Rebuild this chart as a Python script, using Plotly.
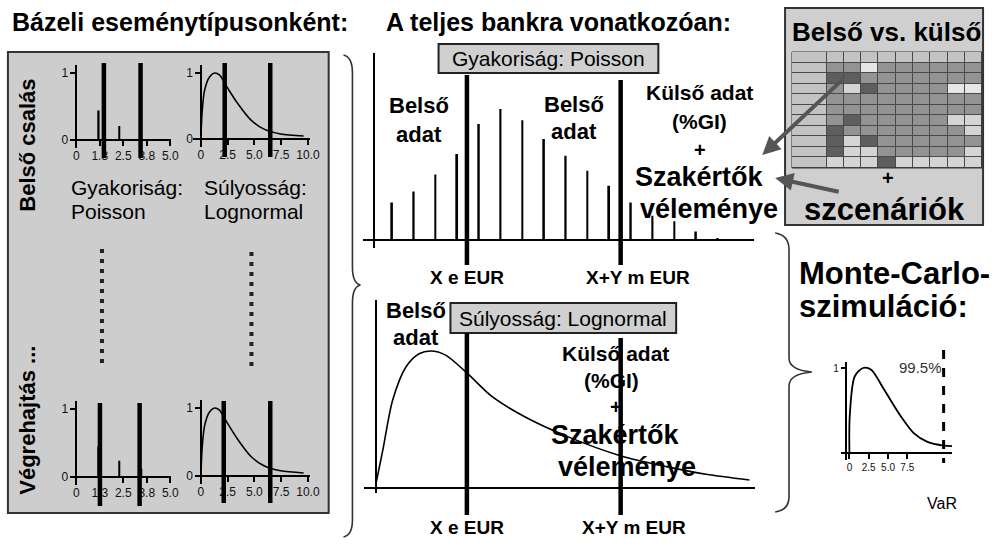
import plotly.graph_objects as go

W, H = 999, 544
FONT = "Liberation Sans, Arial, sans-serif"

# ---------------- data ----------------
# left panel, mini frequency charts (Poisson)
poisson_top_x = [1.2, 2.3]
poisson_top_y = [0.44, 0.21]
poisson_bot_x = [1.2, 2.3, 3.45]
poisson_bot_y = [0.45, 0.24, 0.12]
poisson_ticks = [0, 1.25, 2.5, 3.75, 5.0]
poisson_ticktext = ["0", "1.3", "2.5", "3.8", "5.0"]

# left panel, mini severity charts (Lognormal)
logn_x = [0, 0.1, 0.34, 0.8, 1.27, 1.73, 2.5, 3.43, 4.66, 5.9, 7.44, 9.6]
logn_y = [0, 0.39, 0.74, 0.94, 1.0, 0.97, 0.77, 0.54, 0.29, 0.15, 0.076, 0.045]
logn_ticks = [0, 2.5, 5.0, 7.5, 10.0]
logn_ticktext = ["0", "2.5", "5.0", "7.5", "10.0"]

mini_y_ticks = [0, 1]
mini_y_ticktext = ["0", "1"]

# threshold markers (thick vertical lines) in the mini charts
poisson_top_marks = [1.47, 3.42]
logn_top_marks = [2.22, 6.48]
poisson_bot_marks = [1.26, 3.37]
logn_bot_marks = [2.13, 6.48]

# bank-wide frequency (Poisson)
bank_freq_x = list(range(1, 17))
bank_freq_y = [0.20, 0.26, 0.35, 0.46, 0.62, 0.70, 0.64, 0.54, 0.45, 0.37,
               0.29, 0.20, 0.13, 0.10, 0.045, 0.01]
bank_freq_marks = [4.45, 11.53]

# bank-wide severity (Lognormal)
bank_sev_x = [0, 0.18, 0.44, 0.8, 1.15, 1.46, 1.86, 2.43, 3.09, 3.98, 5.13,
              6.54, 7.78, 8.84, 10.0]
bank_sev_y = [0.04, 0.28, 0.64, 0.885, 0.98, 1.0, 0.97, 0.84, 0.67, 0.52,
              0.375, 0.236, 0.156, 0.10, 0.058]
bank_sev_marks = [2.43, 6.55]
threshold_labels = ["X e EUR", "X+Y m EUR"]

# Monte-Carlo aggregate loss distribution
mc_x = [0, 0.04, 0.68, 1.76, 2.82, 4.53, 6.67, 8.37, 10.1, 12.2, 13.3]
mc_y = [0, 0.43, 0.9, 1.0, 0.98, 0.74, 0.43, 0.23, 0.13, 0.086, 0.08]
mc_var = 12.2
mc_ticks = [0, 2.5, 5.0, 7.5]
mc_ticktext = ["0", "2.5", "5.0", "7.5"]
mc_var_label = "99.5%"

# internal vs external table: gray level per cell (0 lightest .. 4 darkest)
table_header = [2, 2, 2, 2, 2, 2, 2, 2, 2, 2]
table_r1 = [2, 3, 3, 0, 3, 3, 3, 3, 3, 3]
table_r2 = [2, 4, 4, 3, 3, 3, 3, 3, 3, 3]
table_r3 = [2, 3, 1, 4, 3, 3, 3, 3, 0, 0]
table_r4 = [2, 3, 3, 3, 3, 3, 3, 3, 3, 3]
table_r5 = [2, 3, 3, 3, 3, 3, 3, 3, 3, 3]
table_r6 = [2, 3, 4, 3, 3, 3, 3, 3, 1, 1]
table_r7 = [2, 4, 3, 3, 3, 3, 3, 3, 3, 1]
table_r8 = [2, 4, 1, 4, 3, 3, 3, 3, 3, 3]
table_r9 = [2, 4, 1, 1, 3, 3, 3, 3, 3, 1]
table_r10 = [2, 1, 1, 1, 4, 1, 1, 1, 1, 1]
table_col_edges = [0, 2, 3, 4, 5, 6, 7, 8, 9, 10, 11]

# ---------------- helpers ----------------
def px(x):
    return x / W


def py(y):
    return 1 - y / H


def xaxis(dom, zero_px, ppu, cross_y_px, tickvals=None, ticktext=None, size=12):
    d = dict(domain=[px(dom[0]), px(dom[1])],
             range=[(dom[0] - zero_px) / ppu, (dom[1] - zero_px) / ppu],
             anchor="free", position=py(cross_y_px),
             showline=True, linecolor="black", linewidth=1.5,
             showgrid=False, zeroline=False, fixedrange=True)
    if tickvals is not None:
        d.update(tickvals=tickvals, ticktext=ticktext, ticks="outside",
                 ticklen=5, tickwidth=1.5, tickcolor="black",
                 tickfont=dict(size=size, color="#111", family=FONT))
    else:
        d.update(showticklabels=False, ticks="")
    return d


def yaxis(dom, zero_px, ppu, cross_x_px, tickvals=None, ticktext=None, size=12):
    d = dict(domain=[py(dom[1]), py(dom[0])],
             range=[(zero_px - dom[1]) / ppu, (zero_px - dom[0]) / ppu],
             anchor="free", position=px(cross_x_px),
             showline=True, linecolor="black", linewidth=1.5,
             showgrid=False, zeroline=False, fixedrange=True)
    if tickvals is not None:
        d.update(tickvals=tickvals, ticktext=ticktext, ticks="outside",
                 ticklen=5, tickwidth=1.5, tickcolor="black",
                 tickfont=dict(size=size, color="#111", family=FONT))
    else:
        d.update(showticklabels=False, ticks="")
    return d


annotations = []


def txt(s, x, y, size, bold=False, xanchor="center", angle=0, color="black"):
    annotations.append(dict(text=s, x=px(x), y=py(y), xref="paper", yref="paper",
                            xanchor=xanchor, yanchor="middle", showarrow=False,
                            textangle=angle,
                            font=dict(size=size, color=color, family=FONT,
                                      weight="bold" if bold else "normal")))


shapes = []


def vline(xref, xval, y0, y1, width=4.5, dash="solid"):
    shapes.append(dict(type="line", xref=xref, yref="paper", x0=xval, x1=xval,
                       y0=py(y0), y1=py(y1),
                       line=dict(color="black", width=width, dash=dash)))


def rect(x0, y0, x1, y1, fill, border="#333", width=2, layer="below"):
    shapes.append(dict(type="rect", xref="paper", yref="paper",
                       x0=px(x0), x1=px(x1), y0=py(y1), y1=py(y0),
                       fillcolor=fill, line=dict(color=border, width=width),
                       layer=layer))


def path(points_cmds, width=1.6, color="#333"):
    parts = []
    for cmd, pts in points_cmds:
        coords = " ".join(f"{px(a):.5f},{py(b):.5f}" for a, b in pts)
        parts.append(f"{cmd} {coords}")
    shapes.append(dict(type="path", xref="paper", yref="paper", path=" ".join(parts),
                       line=dict(color=color, width=width), layer="above"))


# ---------------- background boxes ----------------
rect(8, 52, 332, 513, "#cdcdcd")                       # left panel
rect(793, 8, 993, 225, "#cfcfcf")                      # table box
rect(800, 52, 992, 168, "#4a4a4a", border="#333", width=1)  # table grid
rect(443, 44, 665, 73, "#d0d0d0", border="#222", width=2, layer="above")
rect(455, 303, 683, 333, "#d0d0d0", border="#222", width=2, layer="above")

# ---------------- traces ----------------
fig = go.Figure()
line_style = dict(color="black", width=1.6, shape="spline", smoothing=0.8)

fig.add_trace(go.Bar(x=poisson_top_x, y=poisson_top_y, width=0.08,
                     marker=dict(color="black", line=dict(width=0)),
                     xaxis="x", yaxis="y", hoverinfo="skip"))
fig.add_trace(go.Scatter(x=logn_x, y=logn_y, mode="lines", line=line_style,
                         xaxis="x2", yaxis="y2", hoverinfo="skip"))
fig.add_trace(go.Bar(x=poisson_bot_x, y=poisson_bot_y, width=0.08,
                     marker=dict(color="black", line=dict(width=0)),
                     xaxis="x3", yaxis="y3", hoverinfo="skip"))
fig.add_trace(go.Scatter(x=logn_x, y=logn_y, mode="lines", line=line_style,
                         xaxis="x4", yaxis="y4", hoverinfo="skip"))
fig.add_trace(go.Bar(x=bank_freq_x, y=bank_freq_y, width=0.08,
                     marker=dict(color="black", line=dict(width=0)),
                     xaxis="x5", yaxis="y5", hoverinfo="skip"))
fig.add_trace(go.Scatter(x=bank_sev_x, y=bank_sev_y, mode="lines",
                         line=dict(color="black", width=1.6, shape="spline", smoothing=0.8),
                         xaxis="x6", yaxis="y6", hoverinfo="skip"))
fig.add_trace(go.Scatter(x=mc_x, y=mc_y, mode="lines",
                         line=dict(color="black", width=1.8, shape="spline", smoothing=0.8),
                         xaxis="x7", yaxis="y7", hoverinfo="skip"))

table_z = [table_header, table_r1, table_r2, table_r3, table_r4, table_r5,
           table_r6, table_r7, table_r8, table_r9, table_r10]
fig.add_trace(go.Heatmap(z=table_z, x=table_col_edges, y=list(range(len(table_z))),
                         zmin=0, zmax=4, showscale=False, xgap=1, ygap=1,
                         colorscale=[[0, "#e6e6e6"], [0.25, "#d4d4d4"],
                                     [0.5, "#c3c3c3"], [0.75, "#939393"],
                                     [1, "#5e5e5e"]],
                         xaxis="x8", yaxis="y8", hoverinfo="skip"))

# ---------------- threshold lines ----------------
for v in poisson_top_marks:
    vline("x", v, 63, 158)
for v in logn_top_marks:
    vline("x2", v, 63, 157)
for v in poisson_bot_marks:
    vline("x3", v, 403, 506)
for v in logn_bot_marks:
    vline("x4", v, 401, 503)
vline("x5", bank_freq_marks[0], 75, 265)
vline("x5", bank_freq_marks[1], 80, 265)
vline("x6", bank_sev_marks[0], 333, 515)
vline("x6", bank_sev_marks[1], 338, 515)
vline("x7", mc_var, 350, 463, width=3, dash="dash")

# dotted "..." columns in left panel
for xx, y0, y1 in [(103, 249, 364), (254, 252, 367)]:
    shapes.append(dict(type="line", xref="paper", yref="paper",
                       x0=px(xx), x1=px(xx), y0=py(y0), y1=py(y1),
                       line=dict(color="#222", width=4, dash="4px,6px")))

# braces
path([("M", [(347, 55)]), ("Q", [(356, 57), (356, 73)]), ("L", [(356, 267)]),
      ("Q", [(356, 283), (364, 285)]), ("Q", [(356, 287), (356, 303)]),
      ("L", [(356, 520)]), ("Q", [(356, 535), (347, 537)])])
path([("M", [(783, 233)]), ("Q", [(797, 235), (797, 250)]), ("L", [(797, 358)]),
      ("Q", [(797, 370), (820, 372)]), ("Q", [(797, 374), (797, 386)]),
      ("L", [(797, 497)]), ("Q", [(797, 510), (783, 512)])])

# ---------------- texts ----------------
txt("Bázeli eseménytípusonként:", 10, 22, 25, bold=True, xanchor="left")
txt("A teljes bankra vonatkozóan:", 388, 22, 25, bold=True, xanchor="left")

txt("Belső csalás", 27, 145, 22, bold=True, angle=-90)
txt("Végrehajtás ...", 27, 420, 22, bold=True, angle=-90)
txt("Gyakoriság:", 70, 187, 21, xanchor="left")
txt("Poisson", 70, 211, 21, xanchor="left")
txt("Súlyosság:", 204, 187, 21, xanchor="left")
txt("Lognormal", 204, 211, 21, xanchor="left")

txt("Gyakoriság: Poisson", 554, 59, 21)
txt("Belső", 423, 106, 22, bold=True)
txt("adat", 423, 134, 22, bold=True)
txt("Belső", 580, 104, 22, bold=True)
txt("adat", 580, 131, 22, bold=True)
txt("Külső adat", 707, 93, 21, bold=True)
txt("(%GI)", 707, 122, 21, bold=True)
txt("+", 707, 150, 20, bold=True)
txt("Szakértők", 707, 177, 27, bold=True)
txt("véleménye", 716, 209, 27, bold=True)
txt(threshold_labels[0], 472, 277, 19, bold=True)
txt(threshold_labels[1], 644, 277, 19, bold=True)

txt("Súlyosság: Lognormal", 569, 318, 21)
txt("Belső", 420, 310, 22, bold=True)
txt("adat", 420, 337, 22, bold=True)
txt("Külső adat", 622, 353, 21, bold=True)
txt("(%GI)", 618, 380, 21, bold=True)
txt("+", 622, 407, 20, bold=True)
txt("Szakértők", 622, 435, 27, bold=True)
txt("véleménye", 633, 467, 27, bold=True)
txt(threshold_labels[0], 472, 527, 19, bold=True)
txt(threshold_labels[1], 640, 527, 19, bold=True)

txt("Belső vs. külső", 895, 32, 26, bold=True)
txt("+", 897, 178, 20, bold=True)
txt("szcenáriók", 893, 209, 31, bold=True)

txt("Monte-Carlo-", 805, 273, 31, bold=True, xanchor="left")
txt("szimuláció:", 805, 306, 31, bold=True, xanchor="left")
txt(mc_var_label, 930, 367, 15, color="#333")
txt("VaR", 952, 503, 16)

# arrows from the table
for hx, hy, tx, ty in [(770, 155, 853, 77), (783, 178, 848, 192)]:
    annotations.append(dict(x=px(hx), y=py(hy), xref="paper", yref="paper",
                            ax=tx - hx, ay=ty - hy, axref="pixel", ayref="pixel",
                            showarrow=True, arrowhead=2, arrowsize=0.9,
                            arrowwidth=4, arrowcolor="#555", text=""))

# ---------------- layout ----------------
fig.update_layout(
    width=W, height=H, margin=dict(l=0, r=0, t=0, b=0),
    paper_bgcolor="white", plot_bgcolor="rgba(0,0,0,0)",
    showlegend=False, font=dict(family=FONT, color="black"),
    shapes=shapes, annotations=annotations,
    xaxis=xaxis((72, 173), 77, 19, 140, poisson_ticks, poisson_ticktext),
    yaxis=yaxis((65, 148), 140, 67, 77, mini_y_ticks, mini_y_ticktext),
    xaxis2=xaxis((195, 313), 203, 10.8, 139, logn_ticks, logn_ticktext),
    yaxis2=yaxis((65, 147), 139, 66, 203, mini_y_ticks, mini_y_ticktext),
    xaxis3=xaxis((72, 173), 77, 19, 477, poisson_ticks, poisson_ticktext),
    yaxis3=yaxis((401, 485), 477, 68, 77, mini_y_ticks, mini_y_ticktext),
    xaxis4=xaxis((197, 313), 203, 10.8, 476, logn_ticks, logn_ticktext),
    yaxis4=yaxis((400, 484), 476, 68, 203, mini_y_ticks, mini_y_ticktext),
    xaxis5=xaxis((367, 762), 374.07, 21.93, 240),
    yaxis5=yaxis((53, 248), 240, 187, 378),
    xaxis6=xaxis((368, 763), 380, 37.7, 488),
    yaxis6=yaxis((300, 493), 488, 137, 380),
    xaxis7=xaxis((850, 962), 858, 7.8, 453, mc_ticks, mc_ticktext, size=10),
    yaxis7=yaxis((362, 460), 453, 85, 855, [1], ["1"], size=10),
    xaxis8=dict(domain=[px(800), px(992)], range=[0, 11], anchor="y8",
                visible=False, fixedrange=True),
    yaxis8=dict(domain=[py(168), py(52)], range=[10.5, -0.5], anchor="x8",
                visible=False, fixedrange=True),
)

fig.write_html("out.html", config={"displayModeBar": False},
               post_script="document.body.style.margin='0px';"
                           "document.body.style.overflow='hidden';")
